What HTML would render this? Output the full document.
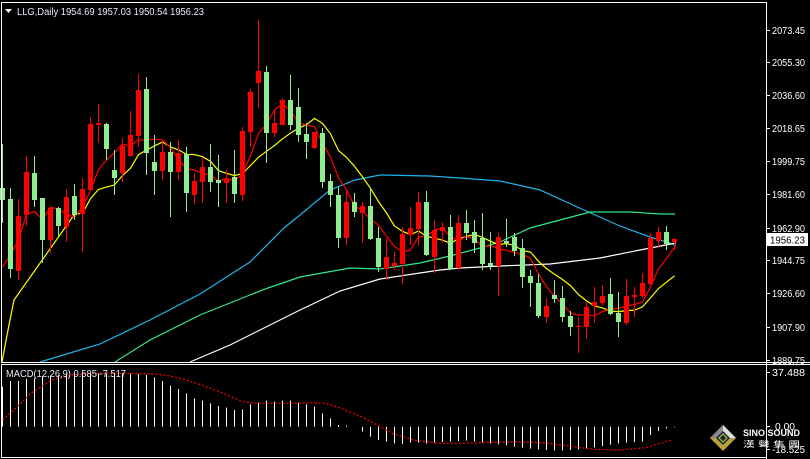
<!DOCTYPE html>
<html><head><meta charset="utf-8"><style>
html,body{margin:0;padding:0;background:#000;}
svg{display:block;}
text{font-family:"Liberation Sans","Noto Sans CJK TC",sans-serif;}
</style></head><body>
<svg id="s" width="810" height="459" viewBox="0 0 810 459" xmlns="http://www.w3.org/2000/svg">
<rect width="810" height="459" fill="#000"/>
<g id="lines"></g>
<g id="candles"></g>
<g id="macd"></g>
<!-- borders -->
<line x1="1.5" y1="2.5" x2="766.5" y2="2.5" stroke="#fff"/>
<line x1="1.5" y1="2" x2="1.5" y2="363" stroke="#fff"/>
<line x1="766.5" y1="2" x2="766.5" y2="459" stroke="#fff"/>
<line x1="1" y1="362.5" x2="810" y2="362.5" stroke="#fff"/>
<line x1="1" y1="364.5" x2="810" y2="364.5" stroke="#fff"/>
<line x1="1.5" y1="364" x2="1.5" y2="458" stroke="#fff"/>
<line x1="1" y1="457.5" x2="766" y2="457.5" stroke="#fff"/>
<g id="axis"></g>
<!-- title -->
<polygon points="5,9 12,9 8.5,13" fill="#fff"/>
<text x="17" y="15" font-size="10" fill="#e8ecf8" textLength="187" lengthAdjust="spacingAndGlyphs">LLG,Daily  1954.69 1957.03 1950.54 1956.23</text>
<text x="6" y="377" font-size="10" fill="#e8ecf8" textLength="120" lengthAdjust="spacingAndGlyphs">MACD(12,26,9) 0.585 -7.517</text>
<!-- price box -->
<rect x="767" y="233" width="41" height="13" fill="#fff"/>
<text x="770" y="243.5" font-size="10" fill="#000" textLength="35" lengthAdjust="spacingAndGlyphs">1956.23</text>
<!-- logo -->
<g transform="translate(723,438)">
<polygon points="0,-13 13,0 0,13 -13,0" fill="#b8a040"/>
<polygon points="0,-13 13,0 0,0" fill="#ddd"/>
<polygon points="0,-13 -13,0 0,0" fill="#888"/>
<polygon points="0,-7 7,0 0,7 -7,0" fill="#223"/>
<polygon points="0,-4 4,0 0,4 -4,0" fill="none" stroke="#9c3" stroke-width="1.2"/>
</g>
<text x="743" y="436" font-size="9" font-weight="bold" fill="#fff" textLength="57" lengthAdjust="spacingAndGlyphs">SINO SOUND</text>
<text x="743" y="447" font-size="8" fill="#fff" textLength="57" lengthAdjust="spacingAndGlyphs">漢 聲 集 團</text>
</svg>
<script>
var NS="http://www.w3.org/2000/svg";
function el(p,t,a){var e=document.createElementNS(NS,t);for(var k in a)e.setAttribute(k,a[k]);p.appendChild(e);return e;}
// [color(1=red up,0=green down), bodyTop, bodyBot, high, low]
var C=[
[0,188,200,144,223],[0,199,269,188,278],[1,216,271,199,280],[1,172,215,156,226],[0,173,200,156,207],
[0,198,240,198,263],[1,208,240,207,253],[0,208,226,207,236],[1,197,227,189,242],[0,196,215,184,220],
[1,189,214,178,252],[1,124,190,117,190],[1,123,125,104,143],[0,124,149,123,160],[0,170,178,150,195],
[1,146,173,138,182],[1,135,156,111,157],[1,90,136,74,147],[0,89,153,77,175],[0,162,171,135,195],
[1,152,171,140,180],[0,152,172,142,217],[1,153,172,140,180],[0,154,193,147,212],[1,181,195,173,204],
[1,167,182,157,203],[0,167,182,144,192],[0,180,183,155,207],[1,179,183,170,203],[0,177,194,150,203],
[1,131,195,127,201],[1,92,132,89,147],[1,71,83,20,108],[0,72,133,66,163],[1,123,133,110,137],
[1,100,125,98,125],[0,100,125,75,130],[0,107,135,88,142],[0,134,142,123,159],[1,132,148,132,149],
[0,133,182,128,188],[0,181,195,174,207],[0,195,238,187,248],[1,202,238,190,245],[0,202,212,193,217],
[1,206,213,202,243],[0,206,239,188,240],[0,238,267,227,272],[1,257,269,238,280],[1,263,266,252,270],
[1,234,264,227,284],[1,228,235,207,245],[1,202,229,192,246],[0,202,255,191,256],[1,230,257,220,273],
[1,227,231,222,243],[0,227,269,215,270],[1,223,268,215,270],[0,223,233,210,240],[0,232,243,220,253],
[0,238,264,213,270],[0,263,266,232,270],[1,237,266,233,296],[0,241,243,219,247],[0,237,251,233,256],
[0,248,277,239,288],[0,276,283,270,307],[0,283,316,274,318],[1,306,317,298,323],[0,295,299,280,303],
[0,298,317,286,322],[0,316,327,311,336],[1,326,327,317,353],[1,307,327,302,339],[1,302,306,287,323],
[1,296,303,285,306],[0,294,314,278,315],[0,313,322,292,337],[1,296,323,279,325],[1,295,297,287,317],
[1,283,296,273,298],[1,238,284,233,285],[1,232,241,227,248],[0,232,244,226,250],[1,239,242,238,250]];
var gc=document.getElementById('candles');
var closes=[];
C.forEach(function(c,i){
  var x=2.5+8*i;
  var col=c[0]?'#ff0000':'#90ee90';
  el(gc,'line',{x1:x,x2:x,y1:c[3],y2:c[4],stroke:col,'stroke-width':1});
  var h=Math.max(1,c[2]-c[1]);
  el(gc,'rect',{x:x-2.5,y:c[1],width:5,height:h,fill:col});
  closes.push(c[0]?c[1]:c[2]);
});
function sma(n){var pts=[];for(var i=0;i<closes.length;i++){var s=0,k=0;for(var j=Math.max(0,i-n+1);j<=i;j++){s+=closes[j];k++;}pts.push((2.5+8*i)+','+(s/k).toFixed(1));}return pts.join(' ');}
var gl=document.getElementById('lines');
function pl(pts,col){el(gl,'polyline',{points:pts,fill:'none',stroke:col,'stroke-width':1.2});}
pl("40,362 100,344 150,320 200,294 250,262 284,228 300,215 330,190 355,180 380,175 430,176 460,178 500,181 540,190 575,206 620,226 650,237 670,243 676,246","#1eb4f0");
pl("115,362 150,340 200,315 250,295 268,288 300,277 350,268 380,269 420,263 450,256 480,248 500,242 530,228 560,220 590,212 630,212 660,214 675,214","#2ee88a");
pl("190,362 230,345 270,325 300,310 340,291 380,279 420,273 440,270 460,268 500,266 550,264 600,258 640,250 676,243","#ffffff");
// yellow: SMA10 but starts from bottom
var y10=sma(10).split(' ').slice(9).join(' ');
pl("2,362 8,330 14,300 "+y10,"#ffff00");
var r5=sma(5).split(' ');
r5[0]="2.5,267";r5[1]="10.5,255";r5[2]="18.5,240";
pl(r5.join(' '),"#ff0000");
// axis labels
var ga=document.getElementById('axis');
[[2073.45,30],[2055.30,62],[2036.60,95],[2018.65,128],[1999.75,161],[1981.60,194],[1962.90,228],[1944.75,260],[1926.60,293],[1907.90,327],[1889.75,360]].forEach(function(a){
  el(ga,'line',{x1:767,x2:770,y1:a[1]+0.5,y2:a[1]+0.5,stroke:'#fff'});
  var t=el(ga,'text',{x:772,y:a[1]+4,'font-size':10,fill:'#fff',textLength:33,lengthAdjust:'spacingAndGlyphs'});
  t.textContent=a[0].toFixed(2);
});
[["37.488",372],["0.00",426],["-18.525",449]].forEach(function(a){
  el(ga,'line',{x1:767,x2:770,y1:a[1]+0.5,y2:a[1]+0.5,stroke:'#fff'});
  var t=el(ga,'text',{x:772+(a[0]=="0.00"?3:0),y:a[1]+4,'font-size':10,fill:'#fff',textLength:a[0]=="0.00"?20:33,lengthAdjust:'spacingAndGlyphs'});
  t.textContent=a[0];
});
// MACD histogram
var H=[80,63,63,57,55,50,47,45,42,40,40,40,40,40,40,40,41,42,45,52,63,77,87,100,115,122,130,138,143,150,148,133,128,122,125,122,122,128,133,140,160,175,195,197,200,215,230,240,245,250,252,248,248,
250,248,246,245,243,242,244,247,250,253,256,260,263,266,268,270,271,271,270,268,266,262,258,254,250,248,246,245,225,213,205,202];
var gm=document.getElementById('macd');
var z=426.7;
H.forEach(function(h,i){var x=2.5+8*i;var y=360+h/3;if(Math.abs(y-z)<0.6)return;el(gm,'line',{x1:x,x2:x,y1:z,y2:y,stroke:'#fff','stroke-width':1});});
var S=[[5,180],[30,145],[60,100],[100,60],[140,45],[180,40],[250,40],[300,42],[330,48],[360,60],[400,80],[440,105],[470,125],[500,130],[560,130],[600,128],[630,130],[660,145],[700,170],[730,195],[760,220],[800,240],[850,250],[900,250],[950,247],[1000,245],[1050,248],[1100,258],[1150,268],[1200,270],[1250,263],[1300,240]];
el(gm,'polyline',{points:S.map(function(p){return (p[0]/1.936).toFixed(1)+','+(360+p[1]/3).toFixed(1);}).join(' '),fill:'none',stroke:'#ff0000','stroke-width':1.2,'stroke-dasharray':'2,2'});
</script>
</body></html>
